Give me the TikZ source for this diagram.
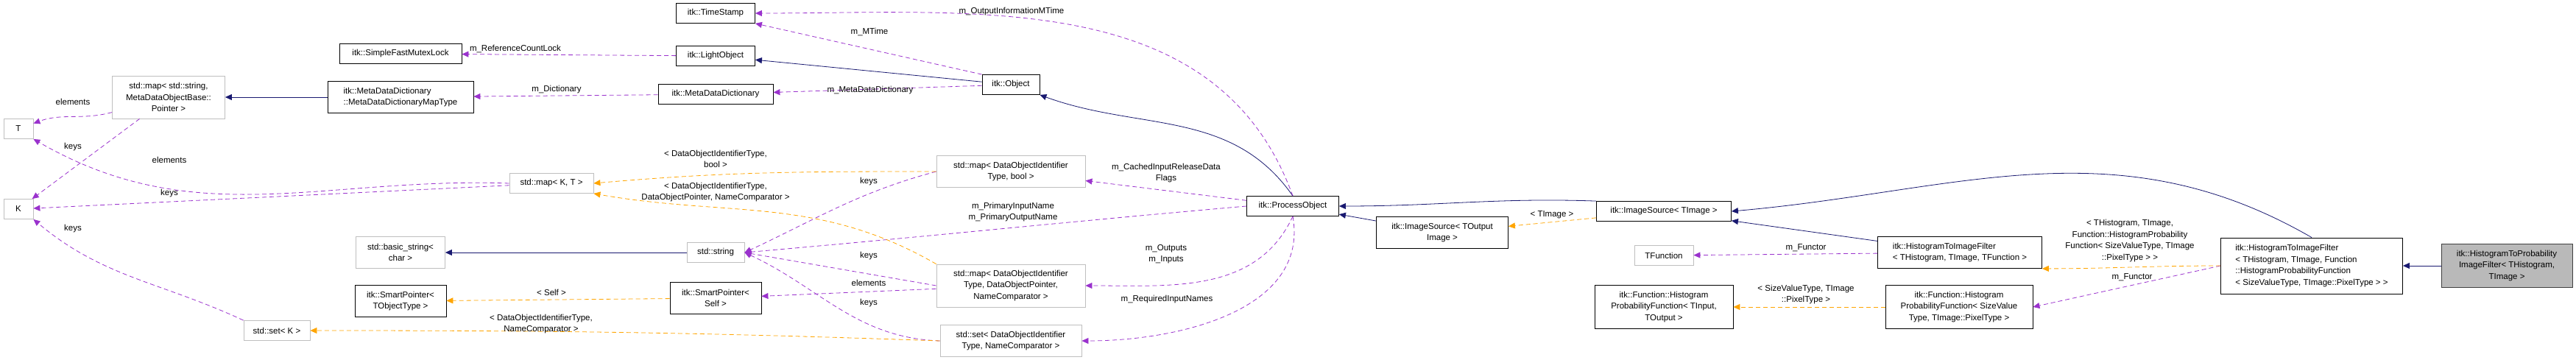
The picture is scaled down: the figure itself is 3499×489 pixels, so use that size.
\documentclass[tikz,border=0pt]{standalone}
\usepackage{fontspec}
\setmainfont{Liberation Sans}
\usetikzlibrary{arrows.meta}
\definecolor{navy}{HTML}{191970}
\definecolor{orchid}{HTML}{9A32CD}
\definecolor{amber}{HTML}{FFA500}
\begin{document}
\begin{tikzpicture}[x=1pt,y=-1pt,
  every node/.style={font=\fontsize{11.5}{15.5}\selectfont, inner sep=0pt},
  cls/.style={draw=black, thick, align=center},
  ext/.style={draw=gray!50, thick, align=center},
  cur/.style={draw=black!75, thick, fill=gray!55, align=center},
  tip/.style={-{Triangle[length=9pt,width=8pt]}},
  inh/.style={tip, navy, thick},
  use/.style={tip, orchid, thick, dash pattern=on 6pt off 4pt},
  tpl/.style={tip, amber, thick, dash pattern=on 6pt off 4pt},
  lbl/.style={align=center}]
\useasboundingbox (0,0) rectangle (3499,489);
% classes
\node[cls, minimum width=166, minimum height=27] (mutex) at (544,73) {itk::SimpleFastMutexLock};
\node[ext, minimum width=153, minimum height=58] (strmap) at (229,132) {std::map\textless{} std::string,\\MetaDataObjectBase::\\Pointer \textgreater};
\node[ext, minimum width=40, minimum height=27] (T) at (25,175) {T};
\node[ext, minimum width=40, minimum height=27] (K) at (25,284) {K};
\node[cls, minimum width=198, minimum height=43, align=left] (dictmap) at (544,132) {itk::MetaDataDictionary\\::MetaDataDictionaryMapType};
\node[ext, minimum width=121, minimum height=43] (basicstr) at (544,343) {std::basic\_string\textless\\char \textgreater};
\node[cls, minimum width=124, minimum height=43] (smartobj) at (544,409) {itk::SmartPointer\textless\\TObjectType \textgreater};
\node[ext, minimum width=90, minimum height=27] (setK) at (376,449) {std::set\textless{} K \textgreater};
\node[cls, minimum width=107, minimum height=27] (stamp) at (972,18) {itk::TimeStamp};
\node[cls, minimum width=107, minimum height=27] (light) at (972,76) {itk::LightObject};
\node[cls, minimum width=156, minimum height=27] (dict) at (972,128) {itk::MetaDataDictionary};
\node[ext, minimum width=114, minimum height=27] (mapKT) at (749,249) {std::map\textless{} K, T \textgreater};
\node[ext, minimum width=78, minimum height=27] (string) at (972,343) {std::string};
\node[cls, minimum width=124, minimum height=43] (smartself) at (972,405) {itk::SmartPointer\textless\\Self \textgreater};
\node[cls, minimum width=78, minimum height=27] (object) at (1373,115) {itk::Object};
\node[ext, minimum width=202, minimum height=43] (mapbool) at (1373,233) {std::map\textless{} DataObjectIdentifier\\Type, bool \textgreater};
\node[ext, minimum width=202, minimum height=58] (mapptr) at (1373,388) {std::map\textless{} DataObjectIdentifier\\Type, DataObjectPointer,\\NameComparator \textgreater};
\node[ext, minimum width=192, minimum height=43] (setname) at (1373,463) {std::set\textless{} DataObjectIdentifier\\Type, NameComparator \textgreater};
\node[cls, minimum width=125, minimum height=27] (process) at (1756,280) {itk::ProcessObject};
\node[cls, minimum width=179, minimum height=43] (srcout) at (1959,316) {itk::ImageSource\textless{} TOutput\\Image \textgreater};
\node[cls, minimum width=183, minimum height=27] (srcimg) at (2260,287) {itk::ImageSource\textless{} TImage \textgreater};
\node[ext, minimum width=80, minimum height=27] (tfunc) at (2260,347) {TFunction};
\node[cls, minimum width=188, minimum height=59] (probin) at (2260,417) {itk::Function::Histogram\\ProbabilityFunction\textless{} TInput,\\TOutput \textgreater};
\node[cls, minimum width=223, minimum height=43, align=left] (tofilter) at (2662,343) {itk::HistogramToImageFilter\\\textless{} THistogram, TImage, TFunction \textgreater};
\node[cls, minimum width=200, minimum height=59] (probsize) at (2661,417) {itk::Function::Histogram\\ProbabilityFunction\textless{} SizeValue\\Type, TImage::PixelType \textgreater};
\node[cls, minimum width=247, minimum height=76, align=left] (probfilter) at (3140,361) {itk::HistogramToImageFilter\\\textless{} THistogram, TImage, Function\\::HistogramProbabilityFunction\\\textless{} SizeValueType, TImage::PixelType \textgreater{} \textgreater};
\node[cur, minimum width=178, minimum height=59] (main) at (3405,361) {itk::HistogramToProbability\\ImageFilter\textless{} THistogram,\\TImage \textgreater};
% inheritance
\draw[inh] (dictmap) -- (strmap);
\draw[inh] (string) -- (basicstr);
\draw[inh] (object) -- (light);
\draw[inh] (process.north) to[out=125,in=-20] (object.south east);
\draw[inh] (srcout) -- (process);
\draw[inh] (srcimg.north west) to[out=178,in=0] (process.east);
\draw[inh] (tofilter) -- (srcimg);
\draw[inh] (probfilter.north) to[out=150,in=5] (srcimg.east);
\draw[inh] (main) -- (probfilter);
% usage
\draw[use] (light) -- (mutex);
\draw[use] (dict) -- (dictmap);
\draw[use] (strmap) to[out=195,in=20] (T);
\draw[use] (strmap) -- (K);
\draw[use] (mapKT.west) to[out=178,in=-30] (T.south east);
\draw[use] (mapKT) -- (K);
\draw[use] (setK.north west) to[out=155,in=-40] (K.south east);
\draw[use] (mapbool.west) to[out=195,in=25] (string.east);
\draw[use] (process.west) to[out=185,in=5] (string.east);
\draw[use] (mapptr.west) -- (string.east);
\draw[use] (mapptr) -- (smartself);
\draw[use] (setname.west) to[out=178,in=-25] (string.east);
\draw[use] (process.north) to[out=110,in=0] (stamp.east);
\draw[use] (object.north west) -- (stamp.south east);
\draw[use] (object) -- (dict);
\draw[use] (process) -- (mapbool);
\draw[use] (process.south) to[out=-115,in=0] (mapptr.east);
\draw[use] (process.south) to[out=-80,in=0] (setname.east);
\draw[use] (tofilter) -- (tfunc);
\draw[use] (probfilter.west) -- (probsize.east);
% templates
\draw[tpl] (smartself) -- (smartobj);
\draw[tpl] (setname.west) to[out=178,in=0] (setK);
\draw[tpl] (mapbool.west) to[out=180,in=5] (mapKT.east);
\draw[tpl] (mapptr.north west) to[out=150,in=-10] (mapKT.south east);
\draw[tpl] (srcimg) -- (srcout);
\draw[tpl] (probsize) -- (probin);
\draw[tpl] (probfilter.west) to[out=180,in=0] (tofilter.south east);
% labels
\node[lbl] (l1) at (700,66) {m\_ReferenceCountLock};
\node[lbl] (l2) at (756,122) {m\_Dictionary};
\node[lbl] (l3) at (99,138) {elements};
\node[lbl] (l4) at (99,200) {keys};
\node[lbl] (l5) at (230,217) {elements};
\node[lbl] (l6) at (230,263) {keys};
\node[lbl] (l7) at (99,311) {keys};
\node[lbl] (l8) at (749,397) {\textless{} Self \textgreater};
\node[lbl] (l9) at (735,440) {\textless{} DataObjectIdentifierType,\\NameComparator \textgreater};
\node[lbl] (l10) at (972,216) {\textless{} DataObjectIdentifierType,\\bool \textgreater};
\node[lbl] (l11) at (972,261) {\textless{} DataObjectIdentifierType,\\DataObjectPointer, NameComparator \textgreater};
\node[lbl] (l12) at (1180,247) {keys};
\node[lbl] (l13) at (1376,288) {m\_PrimaryInputName\\m\_PrimaryOutputName};
\node[lbl] (l14) at (1180,348) {keys};
\node[lbl] (l15) at (1180,384) {elements};
\node[lbl] (l16) at (1180,412) {keys};
\node[lbl] (l17) at (1374,16) {m\_OutputInformationMTime};
\node[lbl] (l18) at (1181,43) {m\_MTime};
\node[lbl] (l19) at (1182,123) {m\_MetaDataDictionary};
\node[lbl] (l20) at (1584,235) {m\_CachedInputReleaseData\\Flags};
\node[lbl] (l21) at (1584,345) {m\_Outputs\\m\_Inputs};
\node[lbl] (l22) at (1585,407) {m\_RequiredInputNames};
\node[lbl] (l23) at (2108,292) {\textless{} TImage \textgreater};
\node[lbl] (l24) at (2453,337) {m\_Functor};
\node[lbl] (l25) at (2453,400) {\textless{} SizeValueType, TImage\\::PixelType \textgreater};
\node[lbl] (l26) at (2893,327) {\textless{} THistogram, TImage,\\Function::HistogramProbability\\Function\textless{} SizeValueType, TImage\\::PixelType \textgreater{} \textgreater};
\node[lbl] (l27) at (2896,377) {m\_Functor};
\end{tikzpicture}
\end{document}
